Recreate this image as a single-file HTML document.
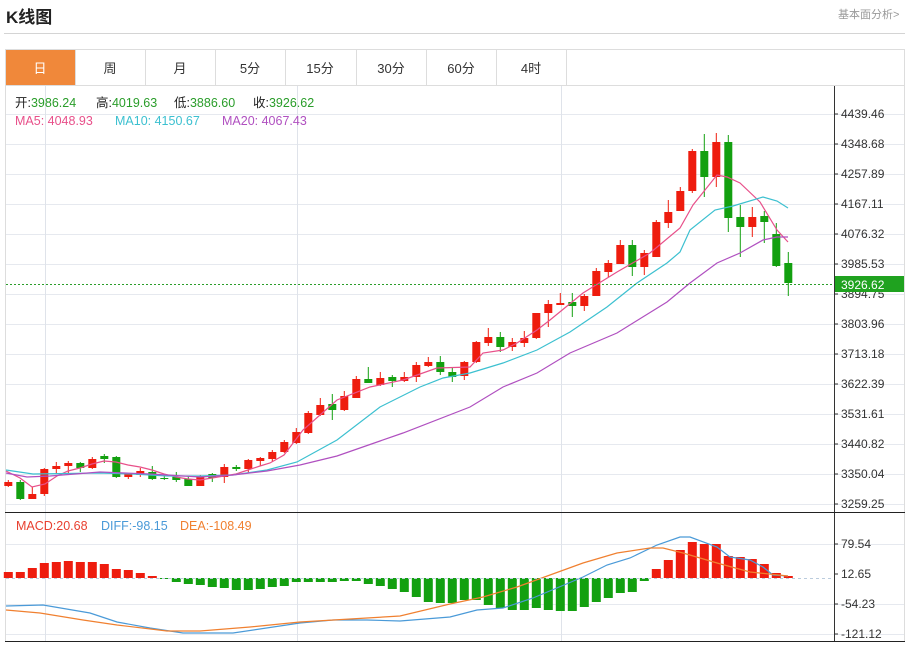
<!DOCTYPE html>
<html><head><meta charset="utf-8"><style>
*{margin:0;padding:0;box-sizing:border-box}
body{width:909px;height:646px;background:#fff;font-family:"Liberation Sans","Noto Sans CJK SC",sans-serif;position:relative;overflow:hidden}
.t{position:absolute;white-space:nowrap}
</style></head><body>
<div class="t" style="left:6px;top:3px;font-size:17px;font-weight:bold;color:#222">K线图</div>
<div class="t" style="left:838px;top:6px;font-size:11px;color:#999">基本面分析&gt;</div>
<div style="position:absolute;left:4px;top:33px;width:901px;height:1px;background:#d4d4d4"></div>
<svg id="s" width="909" height="646" style="position:absolute;left:0;top:0" font-family="Liberation Sans, Noto Sans CJK SC, sans-serif">
<rect x="5.5" y="49.5" width="899" height="592" fill="none" stroke="#ddd"/>
<line x1="5" y1="85.5" x2="905" y2="85.5" stroke="#ddd"/>
<rect x="6" y="50" width="69" height="35" fill="#f0883a"/>
<g stroke="#ddd"><line x1="75.5" y1="50" x2="75.5" y2="85"/><line x1="145.5" y1="50" x2="145.5" y2="85"/><line x1="215.5" y1="50" x2="215.5" y2="85"/><line x1="285.5" y1="50" x2="285.5" y2="85"/><line x1="356.5" y1="50" x2="356.5" y2="85"/><line x1="426.5" y1="50" x2="426.5" y2="85"/><line x1="496.5" y1="50" x2="496.5" y2="85"/><line x1="566.5" y1="50" x2="566.5" y2="85"/></g>
<g font-size="13" text-anchor="middle" fill="#333"><text x="40" y="73" fill="#fff">日</text><text x="110" y="73">周</text><text x="180" y="73">月</text><text x="250" y="73">5分</text><text x="320" y="73">15分</text><text x="391" y="73">30分</text><text x="461" y="73">60分</text><text x="531" y="73">4时</text></g>
<g id="grid" stroke="#e6e9ef" stroke-width="1"></g>
<g stroke="#dfe3ea"><line x1="45.5" y1="86" x2="45.5" y2="641"/><line x1="297.5" y1="86" x2="297.5" y2="641"/><line x1="561.5" y1="86" x2="561.5" y2="641"/></g>
<line x1="834.5" y1="86" x2="834.5" y2="641" stroke="#333"/>
<line x1="5" y1="512.5" x2="905" y2="512.5" stroke="#222"/>
<line x1="5" y1="641.5" x2="905" y2="641.5" stroke="#222"/>
<g id="c"></g>
<g id="m" fill="none" stroke-width="1.2"></g>
<line x1="6" y1="284.5" x2="834" y2="284.5" stroke="#2a9d2a" stroke-dasharray="2,2"/>
<line x1="6" y1="578.5" x2="834" y2="578.5" stroke="#bcd" stroke-dasharray="3,3"/>
<g font-size="12" fill="#333">
<text x="841" y="118">4439.46</text><text x="841" y="148">4348.68</text><text x="841" y="178">4257.89</text><text x="841" y="208">4167.11</text><text x="841" y="238">4076.32</text><text x="841" y="268">3985.53</text><text x="841" y="298">3894.75</text><text x="841" y="328">3803.96</text><text x="841" y="358">3713.18</text><text x="841" y="388">3622.39</text><text x="841" y="418">3531.61</text><text x="841" y="448">3440.82</text><text x="841" y="478">3350.04</text><text x="841" y="508">3259.25</text>
<text x="841" y="548">79.54</text><text x="841" y="578">12.65</text><text x="841" y="608">-54.23</text><text x="841" y="638">-121.12</text>
</g>
<g stroke="#333"><line x1="834" y1="114" x2="838" y2="114"/><line x1="834" y1="144" x2="838" y2="144"/><line x1="834" y1="174" x2="838" y2="174"/><line x1="834" y1="204" x2="838" y2="204"/><line x1="834" y1="234" x2="838" y2="234"/><line x1="834" y1="264" x2="838" y2="264"/><line x1="834" y1="294" x2="838" y2="294"/><line x1="834" y1="324" x2="838" y2="324"/><line x1="834" y1="354" x2="838" y2="354"/><line x1="834" y1="384" x2="838" y2="384"/><line x1="834" y1="414" x2="838" y2="414"/><line x1="834" y1="444" x2="838" y2="444"/><line x1="834" y1="474" x2="838" y2="474"/><line x1="834" y1="504" x2="838" y2="504"/><line x1="834" y1="544" x2="838" y2="544"/><line x1="834" y1="574" x2="838" y2="574"/><line x1="834" y1="604" x2="838" y2="604"/><line x1="834" y1="634" x2="838" y2="634"/></g>
<rect x="835" y="276" width="69" height="16" fill="#1fa21f"/>
<text x="841" y="289" font-size="12" fill="#fff">3926.62</text>
<g font-size="12.5">
<text x="15" y="107" fill="#222">开:<tspan fill="#2a9d2a">3986.24</tspan></text>
<text x="96" y="107" fill="#222">高:<tspan fill="#2a9d2a">4019.63</tspan></text>
<text x="174" y="107" fill="#222">低:<tspan fill="#2a9d2a">3886.60</tspan></text>
<text x="253" y="107" fill="#222">收:<tspan fill="#2a9d2a">3926.62</tspan></text>
<text x="15" y="125" fill="#e8508a">MA5: 4048.93</text>
<text x="115" y="125" fill="#3cc0d0">MA10: 4150.67</text>
<text x="222" y="125" fill="#b050c0">MA20: 4067.43</text>
<text x="16" y="530" fill="#e84030">MACD:20.68</text>
<text x="101" y="530" fill="#4a9ad8">DIFF:-98.15</text>
<text x="180" y="530" fill="#f08030">DEA:-108.49</text>
</g>
</svg>
<script>
var NS="http://www.w3.org/2000/svg";
function el(p,t,a){var e=document.createElementNS(NS,t);for(var k in a)e.setAttribute(k,a[k]);p.appendChild(e);return e;}
var g=document.getElementById("grid");
for(var y=114;y<=504;y+=30)el(g,"line",{x1:6,x2:904,y1:y+.5,y2:y+.5});
[544,604,634].forEach(function(y){el(g,"line",{x1:6,x2:904,y1:y+.5,y2:y+.5});});
var C=[[482,486,480,487,'r'],[482,499,480,500,'g'],[494,499,487,499,'r'],[469,494,468,496,'r'],[466,469,462,474,'r'],[463,466,461,473,'r'],[463,468,462,472,'g'],[459,468,457,469,'r'],[456,459,454,463,'g'],[457,477,456,478,'g'],[474,477,473,479,'r'],[471,475,468,477,'r'],[472,479,466,480,'g'],[478,479,475,480,'g'],[477,480,472,482,'g'],[479,486,476,486,'g'],[476,486,475,486,'r'],[474,478,473,482,'g'],[467,477,464,483,'r'],[467,469,465,471,'g'],[460,469,459,473,'r'],[458,461,457,466,'r'],[452,459,450,462,'r'],[442,452,440,453,'r'],[432,443,428,444,'r'],[413,433,411,434,'r'],[405,415,398,416,'r'],[404,410,394,420,'g'],[396,410,391,411,'r'],[379,398,376,398,'r'],[379,383,367,383,'g'],[378,385,372,386,'r'],[377,381,375,387,'g'],[377,381,372,382,'r'],[365,377,362,382,'r'],[362,366,357,367,'r'],[362,372,356,375,'g'],[372,377,367,382,'g'],[362,376,361,380,'r'],[342,362,341,363,'r'],[337,343,328,346,'r'],[337,347,332,352,'g'],[342,347,338,351,'r'],[338,343,331,347,'r'],[313,338,313,339,'r'],[304,313,300,327,'r'],[303,305,293,305,'r'],[302,306,293,317,'g'],[296,306,294,311,'r'],[271,296,268,296,'r'],[263,272,260,277,'r'],[245,264,240,264,'r'],[245,267,240,276,'g'],[253,267,250,275,'r'],[222,257,220,257,'r'],[212,223,200,228,'r'],[191,211,187,211,'r'],[151,191,149,193,'r'],[151,177,134,197,'g'],[142,177,133,187,'r'],[142,218,135,232,'g'],[217,227,205,257,'g'],[217,227,207,237,'r'],[216,222,211,243,'g'],[234,266,223,267,'g'],[263,283,252,296,'g']];
var H=[572,572,568,563,562,561,562,562,564,569,570,573,576,579,582,584,585,587,588,590,590,589,587,586,582,582,582,582,581,581,584,586,589,592,597,602,603,603,600,600,605,608,610,610,608,610,611,611,607,602,598,593,592,581,569,560,550,542,544,544,556,557,559,564,573,576];
var cg=document.getElementById("c"),base=578;
for(var i=0;i<66;i++){var x=8.3+12*i,c=C[i],col=c[4]=='r'?'#ee1c0e':'#13a010';
el(cg,"line",{x1:x,x2:x,y1:c[2],y2:c[3],stroke:col,"stroke-width":1});
el(cg,"rect",{x:x-4,y:c[0],width:8,height:Math.max(1,c[1]-c[0]),fill:col});
var h=H[i],hc=h<=base?'#ee1c0e':'#13a010';
el(cg,"rect",{x:x-4.5,y:Math.min(h,base),width:9,height:Math.max(1,Math.abs(h-base)),fill:hc});}
var m=document.getElementById("m");
function pl(pts,col){el(m,"polyline",{points:pts,stroke:col});}
pl("6,471 20,478 32,487 45,484 57,476 68,471 80,468 92,464 104,461 116,462 128,465 140,467 152,470 164,474 176,477 188,479 200,480 212,478 224,476 236,474 248,470 260,466 270,463 284,455 303,430 320,415 337,400 370,387 403,380 437,368 470,367 483,353 503,350 517,343 537,330 550,320 583,293 617,272 650,253 680,228 693,205 717,175 727,177 740,183 760,202 777,230 788,242","#e8508a");
pl("6,470 33,474 100,473 133,474 167,476 200,476 233,475 267,470 297,462 337,440 380,407 420,387 443,378 470,373 503,363 537,350 570,332 607,307 637,283 667,263 680,252 690,230 715,210 733,206 763,197 777,201 788,208","#3cc0d0");
pl("6,473 27,477 50,476 100,472 150,474 200,477 233,475 267,471 300,465 337,456 403,433 470,407 503,387 537,373 570,353 617,333 667,302 690,283 717,263 740,253 763,240 777,237 788,237","#b050c0");
pl("6,606 43,605 90,613 117,622 150,628 183,633 233,633 300,623 333,620 367,620 400,621 450,617 477,610 503,608 533,598 583,577 607,565 630,558 657,545 680,537 690,537 717,547 730,557 750,560 763,567 773,575 788,576","#4a9ad8");
pl("6,610 40,613 83,620 117,625 167,631 200,631 250,627 300,622 367,618 400,616 450,604 483,597 517,587 550,575 583,563 617,553 650,548 663,548 683,553 717,563 750,572 788,576","#f08030");
</script>
</body></html>
